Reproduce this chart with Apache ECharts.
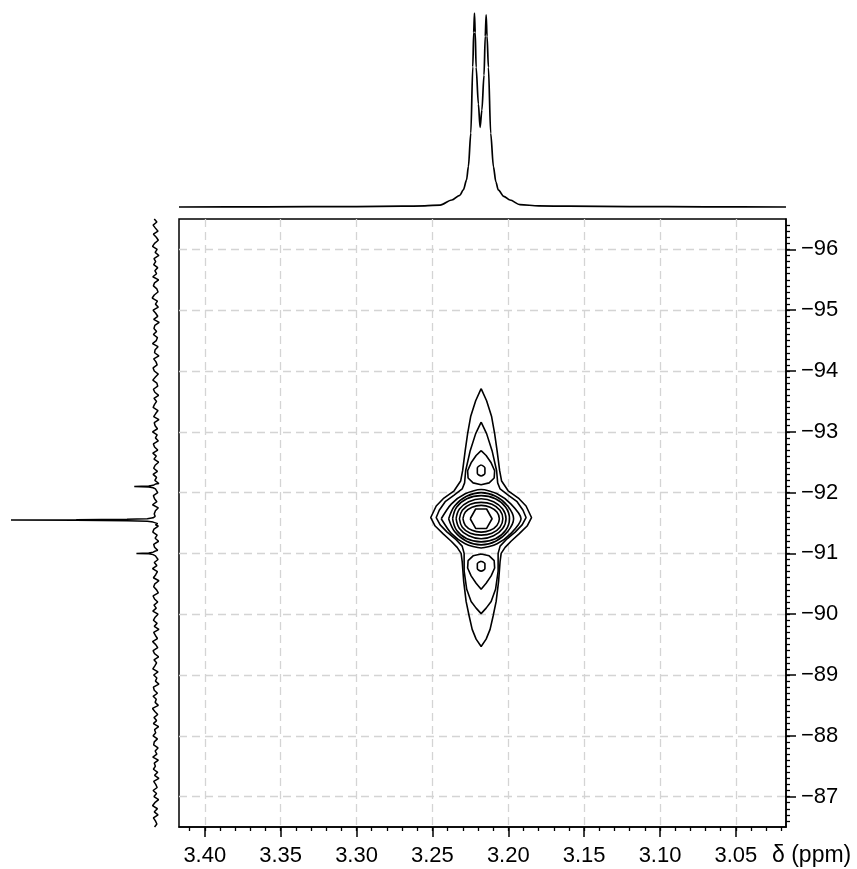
<!DOCTYPE html>
<html>
<head>
<meta charset="utf-8">
<script src="https://cdn.jsdelivr.net/npm/echarts@6/dist/echarts.min.js"></script>
<style>
  html, body { margin: 0; padding: 0; background: #ffffff; }
  #chart { width: 857px; height: 869px; }
</style>
</head>
<body>
<div id="chart"></div>
<script>
// ---- Axis ranges and tick labels (ppm) ----
const f2Range = [3.017, 3.417];          // 1H (horizontal), drawn high -> low
const f1Range = [-96.5, -86.5];          // 13C (vertical), drawn -96 at top
const f2TickValues = [3.40, 3.35, 3.30, 3.25, 3.20, 3.15, 3.10, 3.05];
const f1TickValues = [-96, -95, -94, -93, -92, -91, -90, -89, -88, -87];

// ---- 1H projection: [δH ppm, relative intensity] ----
const f2Projection = [
  [3.417, 0.000], [3.360, 0.001], [3.300, 0.002], [3.270, 0.004], [3.255, 0.006],
  [3.2449, 0.010], [3.2372, 0.036], [3.2320, 0.060], [3.2296, 0.088], [3.2275, 0.140],
  [3.2263, 0.208], [3.2247, 0.381], [3.2234, 0.723], [3.2228, 0.900], [3.2223, 1.000],
  [3.2218, 0.900], [3.2212, 0.720], [3.2197, 0.530], [3.2186, 0.410], [3.2174, 0.500],
  [3.2160, 0.680], [3.2152, 0.880], [3.2146, 0.990], [3.2140, 0.880], [3.2131, 0.720],
  [3.2116, 0.380], [3.2098, 0.208], [3.2082, 0.130], [3.2066, 0.088], [3.2030, 0.055],
  [3.1989, 0.036], [3.1923, 0.012], [3.180, 0.006], [3.160, 0.004], [3.120, 0.002],
  [3.070, 0.001], [3.017, 0.000]
];

// ---- 13C projection: peaks [δC ppm, intensity] ----
const f1SatelliteHigh = [
  [-92.14, 0.004], [-92.12, 0.02], [-92.107, 0.05], [-92.10, 0.15],
  [-92.093, 0.05], [-92.08, 0.02], [-92.06, 0.004]
];
const f1MainPeak = [
  [-91.61, 0.006], [-91.585, 0.02], [-91.57, 0.06], [-91.562, 0.2], [-91.555, 0.55],
  [-91.55, 1.0], [-91.545, 0.55], [-91.538, 0.2], [-91.53, 0.06], [-91.515, 0.02],
  [-91.49, -0.012], [-91.47, 0.004]
];
const f1SatelliteLow = [
  [-91.04, 0.004], [-91.02, 0.02], [-91.007, 0.05], [-91.00, 0.135],
  [-90.993, 0.05], [-90.98, 0.02], [-90.96, 0.004]
];
// baseline noise of the 13C trace, sampled every 0.05 ppm from -96.5
const f1NoiseStart = -96.5;
const f1NoiseStep = 0.05;
const f1Noise = [
  0.012,-0.006,0.020,0.004,-0.014,0.018,-0.002,-0.016,0.010,0.024,
  -0.008,0.006,-0.020,0.014,0.002,0.016,-0.012,0.008,-0.004,0.022,
  -0.018,0.010,0.018,-0.006,-0.014,0.012,0.026,-0.010,0.004,-0.016,
  0.020,0.002,-0.012,0.016,-0.022,0.008,0.014,-0.004,0.018,-0.010,
  -0.002,0.024,-0.014,0.006,0.010,-0.020,0.016,0.000,-0.008,0.020,
  0.012,-0.016,0.004,0.022,-0.006,-0.012,0.018,0.008,-0.018,0.014,
  -0.004,0.010,0.020,-0.014,0.002,0.016,-0.020,0.012,0.006,-0.010,
  0.024,-0.008,0.004,-0.016,0.018,0.010,-0.012,0.022,-0.002,0.014,
  -0.018,0.006,0.016,-0.010,0.020,-0.004,0.008,-0.020,0.014,0.002,
  -0.012,0.018,0.010,-0.006,0.024,-0.016,0.004,0.012,-0.010,0.020,
  -0.002,-0.016,0.014,0.022,-0.008,0.006,-0.018,0.016,0.010,-0.012,
  0.020,0.004,-0.014,0.012,-0.006,0.024,-0.010,0.002,0.018,-0.020,
  0.008,0.016,-0.004,-0.016,0.020,0.010,-0.012,0.014,-0.002,0.022,
  -0.014,0.006,0.018,-0.008,0.012,-0.020,0.016,0.004,-0.010,0.024,
  0.002,-0.012,0.020,0.010,-0.018,0.014,-0.004,0.008,0.022,-0.014,
  0.016,-0.006,0.004,-0.020,0.018,0.012,-0.010,0.020,-0.002,0.006,
  -0.016,0.024,0.008,-0.012,0.014,-0.004,0.018,-0.018,0.010,0.002,
  0.020,-0.010,0.012,0.016,-0.014,0.006,-0.006,0.022,-0.016,0.012,
  0.004,0.018,-0.012,0.010,-0.020,0.016,0.002,-0.008,0.020,-0.004,
  0.014,-0.018,0.008,0.024,-0.010,0.012,-0.014,0.018,0.004,-0.006,
  0.010
];

// ---- Contour paths of the cross peak: [δH ppm, δC ppm] ----
const contour1 = [
  [3.2179,-93.71],[3.2143,-93.51],[3.2110,-93.25],[3.2090,-92.97],[3.2074,-92.69],
  [3.2057,-92.36],[3.2044,-92.19],[3.2001,-92.03],[3.1929,-91.90],[3.1883,-91.78],
  [3.1847,-91.59],[3.1876,-91.45],[3.1929,-91.32],[3.1982,-91.20],[3.2021,-91.10],
  [3.2047,-91.00],[3.2054,-90.87],[3.2064,-90.54],[3.2080,-90.21],[3.2100,-89.97],
  [3.2120,-89.75],[3.2146,-89.59],[3.2179,-89.47],[3.2212,-89.59],[3.2238,-89.75],
  [3.2258,-89.97],[3.2278,-90.21],[3.2294,-90.54],[3.2304,-90.87],[3.2311,-91.00],
  [3.2337,-91.10],[3.2376,-91.20],[3.2429,-91.32],[3.2482,-91.45],[3.2511,-91.59],
  [3.2475,-91.78],[3.2429,-91.90],[3.2357,-92.03],[3.2314,-92.19],[3.2301,-92.36],
  [3.2284,-92.69],[3.2268,-92.97],[3.2248,-93.25],[3.2215,-93.51],[3.2179,-93.71]
];
const contour2 = [
  [3.2179,-93.16],[3.2143,-92.97],[3.2107,-92.69],[3.2077,-92.36],[3.2070,-92.16],
  [3.2054,-92.06],[3.2001,-91.96],[3.1942,-91.85],[3.1903,-91.71],[3.1883,-91.59],
  [3.1909,-91.47],[3.1955,-91.35],[3.2008,-91.24],[3.2054,-91.12],[3.2067,-91.00],
  [3.2067,-90.71],[3.2084,-90.41],[3.2113,-90.21],[3.2146,-90.10],[3.2179,-90.01],
  [3.2212,-90.10],[3.2245,-90.21],[3.2274,-90.41],[3.2291,-90.71],[3.2291,-91.00],
  [3.2304,-91.12],[3.2350,-91.24],[3.2403,-91.35],[3.2449,-91.47],[3.2475,-91.59],
  [3.2455,-91.71],[3.2416,-91.85],[3.2357,-91.96],[3.2304,-92.06],[3.2288,-92.16],
  [3.2281,-92.36],[3.2251,-92.69],[3.2215,-92.97],[3.2179,-93.16]
];
const lobeUpper3 = [
  [3.2179,-92.69],[3.2146,-92.61],[3.2113,-92.49],[3.2090,-92.36],[3.2093,-92.24],
  [3.2126,-92.16],[3.2179,-92.13],[3.2232,-92.16],[3.2265,-92.24],[3.2268,-92.36],
  [3.2245,-92.49],[3.2212,-92.61],[3.2179,-92.69]
];
const lobeLower3 = [
  [3.2179,-90.99],[3.2126,-90.96],[3.2093,-90.88],[3.2090,-90.76],[3.2113,-90.63],
  [3.2146,-90.51],[3.2179,-90.41],[3.2212,-90.51],[3.2245,-90.63],[3.2268,-90.76],
  [3.2265,-90.88],[3.2232,-90.96],[3.2179,-90.99]
];
const lobeUpper4 = [
  [3.2179,-92.456],[3.2154,-92.406],[3.2154,-92.320],[3.2179,-92.274],
  [3.2204,-92.320],[3.2204,-92.406],[3.2179,-92.456]
];
const lobeLower4 = [
  [3.2179,-90.872],[3.2154,-90.830],[3.2154,-90.750],[3.2179,-90.708],
  [3.2204,-90.750],[3.2204,-90.830],[3.2179,-90.872]
];
const ring3 = [
  [3.2442,-91.57],[3.2376,-91.81],[3.2284,-91.98],[3.2179,-92.05],[3.2074,-91.98],
  [3.1982,-91.81],[3.1916,-91.57],[3.1982,-91.33],[3.2074,-91.16],[3.2179,-91.09],
  [3.2284,-91.16],[3.2376,-91.33],[3.2442,-91.57]
];
const ring4 = [
  [3.2393,-91.57],[3.2354,-91.78],[3.2275,-91.94],[3.2179,-92.00],[3.2083,-91.94],
  [3.2004,-91.78],[3.1965,-91.57],[3.2004,-91.36],[3.2083,-91.20],[3.2179,-91.14],
  [3.2275,-91.20],[3.2354,-91.36],[3.2393,-91.57]
];
const ring5 = [
  [3.2367,-91.57],[3.2341,-91.76],[3.2273,-91.90],[3.2179,-91.95],[3.2085,-91.90],
  [3.2017,-91.76],[3.1992,-91.57],[3.2017,-91.38],[3.2085,-91.24],[3.2179,-91.19],
  [3.2273,-91.24],[3.2341,-91.38],[3.2367,-91.57]
];
const ring6 = [
  [3.2344,-91.57],[3.2322,-91.73],[3.2261,-91.85],[3.2179,-91.90],[3.2097,-91.85],
  [3.2037,-91.73],[3.2015,-91.57],[3.2037,-91.41],[3.2097,-91.29],[3.2179,-91.24],
  [3.2261,-91.29],[3.2322,-91.41],[3.2344,-91.57]
];
const ring7 = [
  [3.2322,-91.57],[3.2303,-91.71],[3.2250,-91.81],[3.2179,-91.84],[3.2108,-91.81],
  [3.2055,-91.71],[3.2036,-91.57],[3.2055,-91.43],[3.2108,-91.33],[3.2179,-91.30],
  [3.2250,-91.33],[3.2303,-91.43],[3.2322,-91.57]
];
const ring8 = [
  [3.2299,-91.57],[3.2283,-91.68],[3.2239,-91.76],[3.2179,-91.79],[3.2119,-91.76],
  [3.2075,-91.68],[3.2059,-91.57],[3.2075,-91.46],[3.2119,-91.38],[3.2179,-91.35],
  [3.2239,-91.38],[3.2283,-91.46],[3.2299,-91.57]
];
const ring9 = [
  [3.2251,-91.57],[3.2215,-91.73],[3.2143,-91.73],[3.2107,-91.57],
  [3.2143,-91.41],[3.2215,-91.41],[3.2251,-91.57]
];

// ---- Build the 13C trace: noise baseline with the three peaks spliced in ----
function buildF1Trace() {
  const groups = [f1SatelliteHigh, f1MainPeak, f1SatelliteLow];
  const pts = [];
  f1Noise.forEach(function (v, i) {
    const ppm = +(f1NoiseStart + i * f1NoiseStep).toFixed(3);
    const inside = groups.some(function (g) {
      return ppm >= g[0][0] && ppm <= g[g.length - 1][0];
    });
    if (!inside) pts.push([v, ppm]);
  });
  groups.forEach(function (g) {
    g.forEach(function (p) { pts.push([p[1], p[0]]); });
  });
  pts.sort(function (a, b) { return a[1] - b[1]; });
  return pts;
}

// minor tick positions: 0.01 ppm (1H) and 0.1 ppm (13C)
const f2Minor = [];
for (let k = 302; k <= 341; k++) f2Minor.push(k / 100);
const f1Minor = [];
for (let k = -964; k <= -866; k++) f1Minor.push(k / 10);

const FONT = '"Liberation Sans", Arial, Helvetica, sans-serif';
const GRID = { left: 179, top: 219, width: 607, height: 608 };

const contourPaths = [
  { path: contour1, smooth: false },
  { path: contour2, smooth: false },
  { path: lobeUpper3, smooth: false },
  { path: lobeLower3, smooth: false },
  { path: lobeUpper4, smooth: 0.3 },
  { path: lobeLower4, smooth: 0.3 },
  { path: ring3, smooth: 0.25 },
  { path: ring4, smooth: 0.35 },
  { path: ring5, smooth: 0.4 },
  { path: ring6, smooth: 0.4 },
  { path: ring7, smooth: 0.4 },
  { path: ring8, smooth: 0.4 },
  { path: ring9, smooth: false }
];

const series = contourPaths.map(function (c) {
  return {
    type: 'line',
    xAxisIndex: 0,
    yAxisIndex: 0,
    data: c.path,
    smooth: c.smooth,
    symbol: 'none',
    silent: true,
    lineStyle: { color: '#000', width: 1.6 },
    z: 5
  };
});

series.push({
  type: 'line',
  xAxisIndex: 2,
  yAxisIndex: 2,
  data: f2Projection,
  smooth: 0.3,
  smoothMonotone: 'x',
  symbol: 'none',
  silent: true,
  clip: false,
  lineStyle: { color: '#000', width: 1.7 }
});

series.push({
  type: 'line',
  xAxisIndex: 3,
  yAxisIndex: 3,
  data: buildF1Trace(),
  smooth: false,
  symbol: 'none',
  silent: true,
  clip: false,
  lineStyle: { color: '#000', width: 1.5 }
});

const option = {
  animation: false,
  backgroundColor: '#ffffff',
  grid: [
    Object.assign({ show: true, borderColor: '#000', borderWidth: 1.5, backgroundColor: 'transparent' }, GRID),
    { left: 179, top: 13, width: 607, height: 194 },
    { left: 11, top: 219, width: 152.25, height: 608 }
  ],
  xAxis: [
    {
      // 1H axis: ticks, labels and dashed grid lines
      type: 'value', gridIndex: 0, position: 'bottom',
      min: f2Range[0], max: f2Range[1], inverse: true, splitNumber: 8,
      axisLine: { show: true, onZero: false, lineStyle: { color: '#000', width: 1.5 } },
      axisTick: { show: true, inside: false, length: 10, customValues: f2TickValues,
                  lineStyle: { color: '#000', width: 1.5 } },
      axisLabel: { show: true, customValues: f2TickValues, margin: 18,
                   color: '#000', fontFamily: FONT, fontSize: 22,
                   formatter: function (v) { return (Math.round(v * 100) / 100).toFixed(2); } },
      splitLine: { show: true, lineStyle: { color: '#d4d4d4', width: 1.3, type: [8, 5] } }
    },
    {
      // 1H minor ticks
      type: 'value', gridIndex: 0, position: 'bottom',
      min: f2Range[0], max: f2Range[1], inverse: true,
      axisLine: { show: false, onZero: false },
      axisTick: { show: true, inside: false, length: 4, customValues: f2Minor,
                  lineStyle: { color: '#000', width: 1.3 } },
      axisLabel: { show: false },
      splitLine: { show: false }
    },
    { type: 'value', gridIndex: 1, show: false, min: f2Range[0], max: f2Range[1], inverse: true },
    { type: 'value', gridIndex: 2, show: false, min: -0.05, max: 1, inverse: true }
  ],
  yAxis: [
    {
      // 13C axis on the right
      type: 'value', gridIndex: 0, position: 'right',
      min: f1Range[0], max: f1Range[1], inverse: true, splitNumber: 10,
      axisLine: { show: true, onZero: false, lineStyle: { color: '#000', width: 1.5 } },
      axisTick: { show: true, inside: false, length: 10, customValues: f1TickValues,
                  lineStyle: { color: '#000', width: 1.5 } },
      axisLabel: { show: true, customValues: f1TickValues, margin: 15,
                   color: '#000', fontFamily: FONT, fontSize: 22,
                   formatter: function (v) { return '\u2212' + Math.abs(Math.round(v)); } },
      splitLine: { show: true, lineStyle: { color: '#d4d4d4', width: 1.3, type: [8, 5] } }
    },
    {
      // 13C minor ticks
      type: 'value', gridIndex: 0, position: 'right',
      min: f1Range[0], max: f1Range[1], inverse: true,
      axisLine: { show: false, onZero: false },
      axisTick: { show: true, inside: false, length: 4, customValues: f1Minor,
                  lineStyle: { color: '#000', width: 1.3 } },
      axisLabel: { show: false },
      splitLine: { show: false }
    },
    { type: 'value', gridIndex: 1, show: false, min: 0, max: 1 },
    { type: 'value', gridIndex: 2, show: false, min: f1Range[0], max: f1Range[1], inverse: true }
  ],
  graphic: [
    {
      type: 'text', left: 772, top: 844, silent: true,
      style: { text: 'δ (ppm)', font: '23px ' + FONT, fill: '#000' }
    }
  ],
  series: series
};

const chart = echarts.init(document.getElementById('chart'), null, { renderer: 'canvas' });
chart.setOption(option);
</script>
</body>
</html>
